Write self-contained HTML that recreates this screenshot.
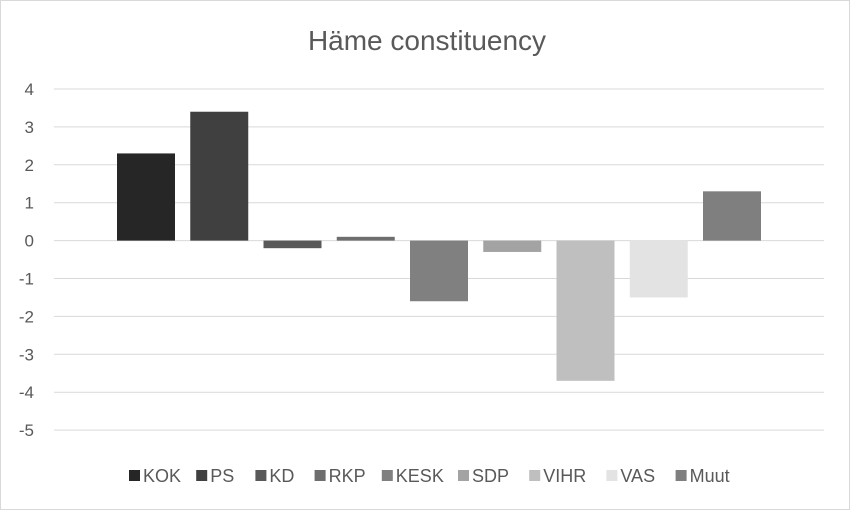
<!DOCTYPE html>
<html><head><meta charset="utf-8"><style>
body{margin:0;background:#fff;font-family:"Liberation Sans",sans-serif}
#c{position:relative;width:850px;height:510px;box-sizing:border-box;border:1px solid #d9d9d9;background:#fff}
</style></head><body>
<div id="c">
<svg id="s" width="850" height="510" style="position:absolute;left:0;top:0"></svg>
</div>
<script>
const categories=["KOK","PS","KD","RKP","KESK","SDP","VIHR","VAS","Muut"];
const values=[2.3,3.4,-0.2,0.1,-1.6,-0.3,-3.7,-1.5,1.3];
const colors=["#262626","#404040","#595959","#6e6e6e","#808080","#a3a3a3","#bfbfbf","#e3e3e3","#7f7f7f"];
const ticks=[4,3,2,1,0,-1,-2,-3,-4,-5];
const NS="http://www.w3.org/2000/svg",s=document.getElementById('s');
function y(v){return 239.6-v*37.9;}
function x(i){return 108.4+i*73.25;}
function mk(t,a,p){const e=document.createElementNS(NS,t);for(const k in a)e.setAttribute(k,a[k]);(p||s).appendChild(e);return e;}
const title=mk('text',{x:426,y:49,'text-anchor':'middle','font-size':28,fill:'#595959'});
title.textContent="Häme constituency";


ticks.forEach(t=>{
 const l=mk('line',{x1:53,x2:823,y1:y(t),y2:y(t),stroke:'#d9d9d9','stroke-width':1});
 
 
 const tx=mk('text',{x:33,y:y(t)+6,'text-anchor':'end','font-size':17,fill:'#595959'});
 tx.textContent=t;
 
 
});
values.forEach((v,i)=>{
 const cx=x(i)+36.6,top=Math.min(y(v),y(0)),h=Math.abs(y(v)-y(0));
 const r=mk('rect',{x:cx-29,y:top,width:58,height:h,fill:colors[i]});
 
 
});
const lw=[55,47,47,55,64,59,65,57,63];
let lx=128;
categories.forEach((c,i)=>{
 const g=mk('g',{});
 
 
 mk('rect',{x:lx,y:469,width:11,height:11,fill:colors[i]},g);
 const t=mk('text',{x:lx+14,y:481,'font-size':18,fill:'#595959'},g);
 t.textContent=c;
 lx+=lw[i]+12.2;
});
</script>
</body></html>
